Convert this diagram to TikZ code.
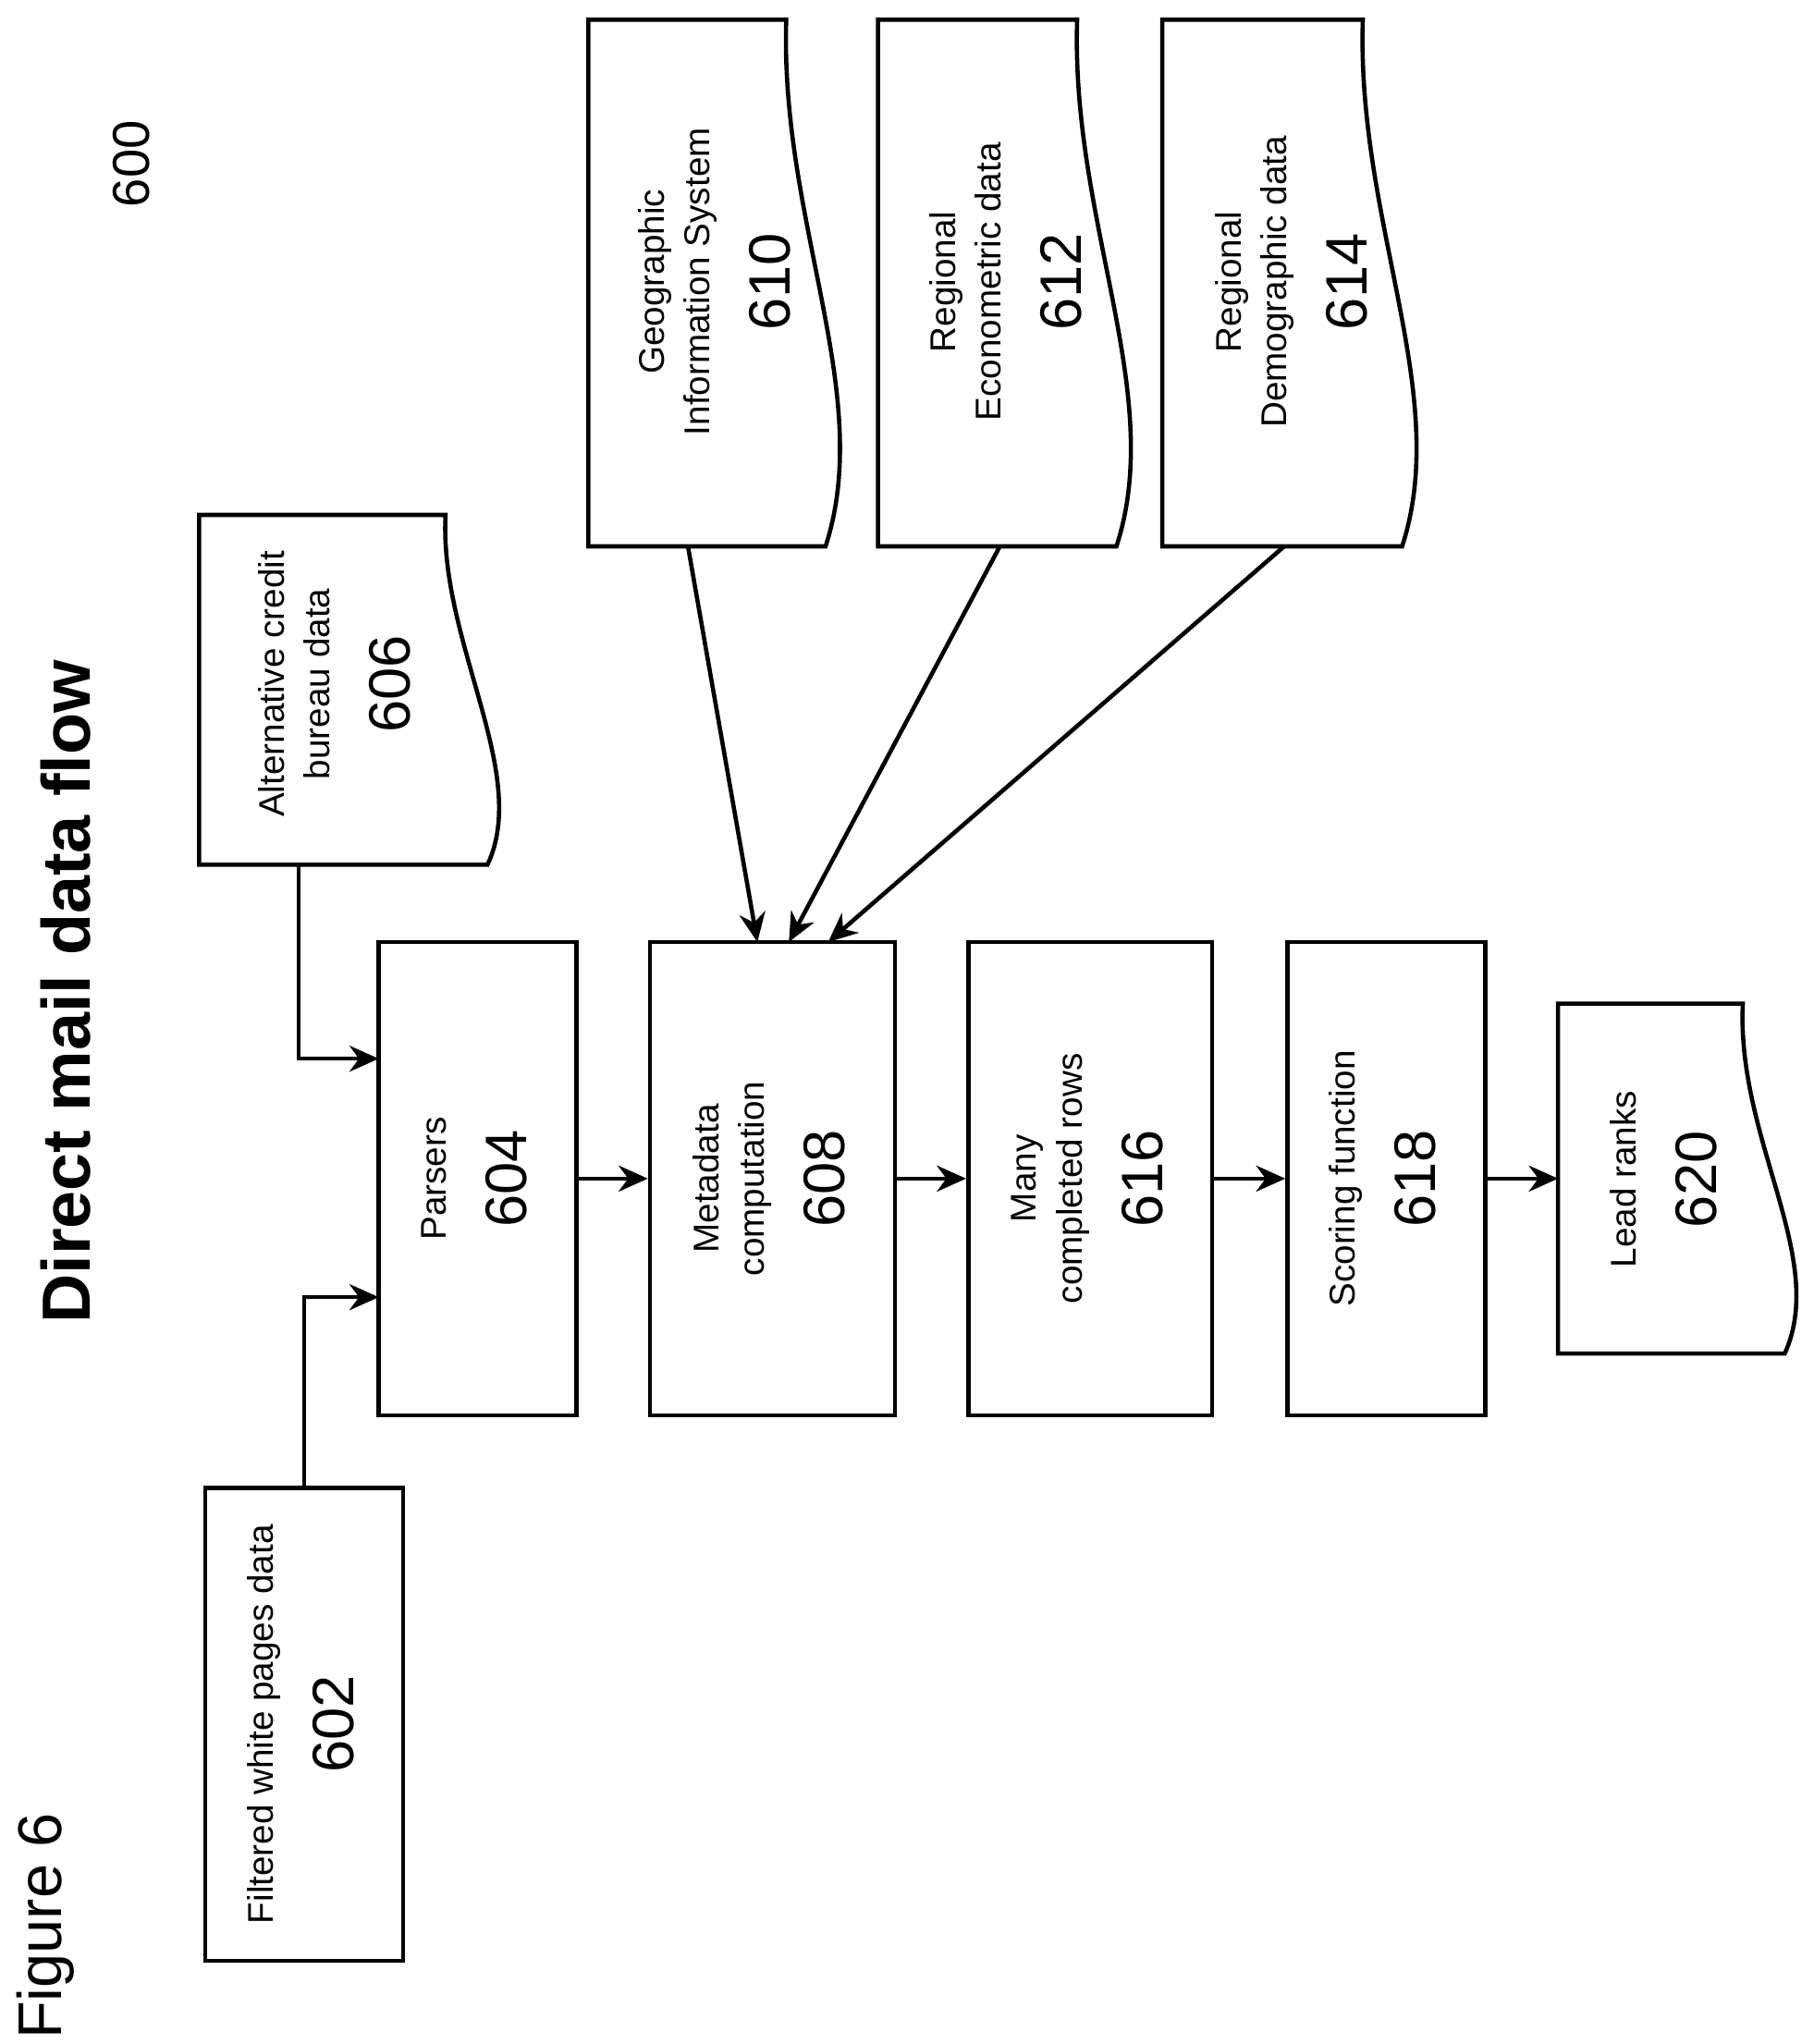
\documentclass[tikz,border=0pt]{standalone}
\usepackage{fontspec}
\setmainfont{Liberation Sans}
\usetikzlibrary{arrows.meta}

\tikzset{
    box/.style={draw, line width=1.3pt, inner sep=0pt, minimum height=5.12cm},
    doc/.style={draw, line width=1.3pt},
    flow/.style={line width=1.3pt, -{Stealth[length=9pt, width=8pt]}}
}
\newcommand{\boxtext}[2]{\rotatebox{90}{\fontsize{11}{14}\selectfont
    \begin{tabular}{@{}c@{}}#1\\[8pt]\fontsize{18}{20}\selectfont #2\end{tabular}}}

\begin{document}
\begin{tikzpicture}[x=0.01417cm, y=-0.01417cm]
    \useasboundingbox (0, 0) rectangle (1384, 1560);

    % Labels
    \node[rotate=90, font=\fontsize{19}{21}\selectfont] (fig) at (35, 1470) {Figure 6};
    \node[rotate=90, font=\bfseries\fontsize{21}{24}\selectfont] (title) at (50, 757) {Direct mail data flow};
    \node[rotate=90, font=\fontsize{16}{18}\selectfont] (num) at (100, 125) {600};

    % Boxes
    \node[box, minimum width=2.14cm] (n602) at (232, 1316) {\boxtext{Filtered white pages data}{602}};
    \node[box, minimum width=2.14cm] (n604) at (364.5, 899.5) {\boxtext{Parsers}{604}};
    \node[box, minimum width=2.65cm] (n608) at (589.5, 899.5) {\boxtext{Metadata\\computation}{608}};
    \node[box, minimum width=2.64cm] (n616) at (832, 899.5) {\boxtext{Many\\completed rows}{616}};
    \node[box, minimum width=2.14cm] (n618) at (1058, 899.5) {\boxtext{Scoring function}{618}};

    % Documents
    \draw[doc] (152, 393) -- (340, 393) .. controls (335, 490) and (405, 590) .. (372, 660) -- (152, 660) -- cycle;
    \node (t606) at (258, 522) {\boxtext{Alternative credit\\bureau data}{606}};
    \draw[doc] (449, 15) -- (600, 15) .. controls (595, 170) and (668, 300) .. (630, 417) -- (449, 417) -- cycle;
    \node (t610) at (548, 215) {\boxtext{Geographic\\Information System}{610}};
    \draw[doc] (670, 15) -- (822, 15) .. controls (817, 170) and (890, 300) .. (852, 417) -- (670, 417) -- cycle;
    \node (t612) at (770, 215) {\boxtext{Regional\\Econometric data}{612}};
    \draw[doc] (887, 15) -- (1040, 15) .. controls (1035, 170) and (1108, 300) .. (1070, 417) -- (887, 417) -- cycle;
    \node (t614) at (988, 215) {\boxtext{Regional\\Demographic data}{614}};
    \draw[doc] (1189, 766) -- (1330, 766) .. controls (1325, 870) and (1395, 960) .. (1362, 1033) -- (1189, 1033) -- cycle;
    \node (t620) at (1272, 900) {\boxtext{Lead ranks}{620}};

    % Connector ends
    \coordinate (s606) at (228, 660);
    \coordinate (s610) at (525, 417);
    \coordinate (s612) at (763, 417);
    \coordinate (s614) at (980, 417);
    \coordinate (j602) at (289, 990);
    \coordinate (j606) at (289, 808);
    \coordinate (e620) at (1189, 899.5);
    \coordinate (a610) at (578, 719);
    \coordinate (a612) at (602, 719);
    \coordinate (a614) at (632, 719);

    % Flow
    \draw[flow] (n602.north) |- (j602);
    \draw[flow] (s606) |- (j606);
    \draw[flow] (n604) -- (n608);
    \draw[flow] (n608) -- (n616);
    \draw[flow] (n616) -- (n618);
    \draw[flow] (n618) -- (e620);
    \draw[flow] (s610) -- (a610);
    \draw[flow] (s612) -- (a612);
    \draw[flow] (s614) -- (a614);
\end{tikzpicture}
\end{document}
